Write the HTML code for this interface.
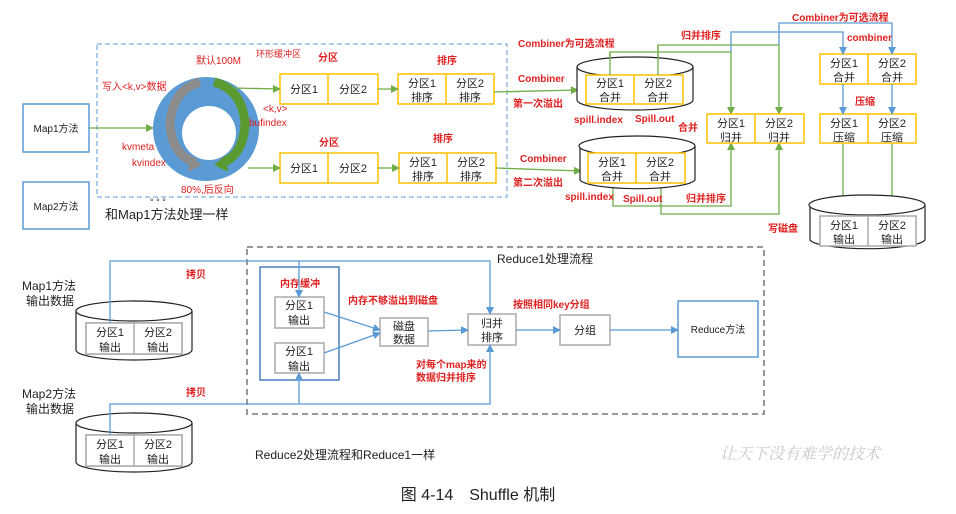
<!DOCTYPE html>
<html><head><meta charset="utf-8"><style>
html,body{margin:0;padding:0;background:#fff;}
svg{display:block;font-family:"Liberation Sans","Noto Sans CJK SC",sans-serif;}
.r{fill:#e02020;font-size:10px;}
.rb{fill:#e02020;font-size:10px;font-weight:bold;}
.t{fill:#222;font-size:11px;text-anchor:middle;}
</style></head><body>
<svg width="956" height="514" viewBox="0 0 956 514" xmlns="http://www.w3.org/2000/svg">
<defs>
<marker id="g" markerWidth="8" markerHeight="8" refX="7" refY="4" orient="auto" markerUnits="userSpaceOnUse"><path d="M0,0 L8,4 L0,8 z" fill="#70ad47"/></marker>
<marker id="b" markerWidth="8" markerHeight="8" refX="7" refY="4" orient="auto" markerUnits="userSpaceOnUse"><path d="M0,0 L8,4 L0,8 z" fill="#5b9bd5"/></marker>
</defs>
<!-- top dashed -->
<rect x="97" y="44" width="410" height="153" fill="none" stroke="#5b9bd5" stroke-dasharray="5,3"/>
<rect x="23" y="104" width="66" height="48" fill="#fff" stroke="#5b9bd5" stroke-width="1.5"/>
<text x="56" y="132" class="t" style="font-size:10px">Map1方法</text>
<rect x="23" y="182" width="66" height="47" fill="#fff" stroke="#5b9bd5" stroke-width="1.5"/>
<text x="56" y="210" class="t" style="font-size:10px">Map2方法</text>
<text x="105" y="219" style="font-size:13px;fill:#222">和Map1方法处理一样</text>
<text x="150" y="205" style="font-size:9px;fill:#222">°   °   °</text>
<!-- ring -->
<ellipse cx="206" cy="129" rx="53" ry="52" fill="#5b9bd5"/>
<circle cx="209" cy="133" r="27" fill="#fff"/>
<path d="M200,82 Q172,90 170,125 Q172,155 196,163" fill="none" stroke="#8c8c8c" stroke-width="9"/>
<path d="M190,156 L202,165 L188,172 z" fill="#8c8c8c"/>
<path d="M214,82 Q243,90 245,125 Q243,155 222,163" fill="none" stroke="#5a9a30" stroke-width="9"/>
<path d="M226,155 L214,165 L228,172 z" fill="#5a9a30"/>
<text x="196" y="64" class="r">默认100M</text>
<text x="256" y="57" class="r" style="font-size:9px">环形缓冲区</text>
<text x="318" y="61" class="rb">分区</text>
<text x="437" y="64" class="rb">排序</text>
<text x="102" y="90" class="r">写入&lt;k,v&gt;数据</text>
<text x="263" y="112" class="r">&lt;k,v&gt;</text>
<text x="249" y="126" class="r">bufindex</text>
<text x="122" y="150" class="r">kvmeta</text>
<text x="132" y="166" class="r">kvindex</text>
<text x="181" y="193" class="r">80%,后反向</text>
<!-- partitions -->
<g stroke="#ffc000" stroke-width="1.5" fill="#fff">
<rect x="280" y="74" width="98" height="30"/><line x1="328" y1="74" x2="328" y2="104"/>
<rect x="398" y="74" width="96" height="30"/><line x1="446" y1="74" x2="446" y2="104"/>
<rect x="280" y="153" width="98" height="30"/><line x1="328" y1="153" x2="328" y2="183"/>
<rect x="399" y="153" width="97" height="30"/><line x1="447" y1="153" x2="447" y2="183"/>
</g>
<text x="304" y="93" class="t">分区1</text><text x="353" y="93" class="t">分区2</text>
<text x="422" y="87" class="t">分区1</text><text x="422" y="101" class="t">排序</text>
<text x="470" y="87" class="t">分区2</text><text x="470" y="101" class="t">排序</text>
<text x="304" y="172" class="t">分区1</text><text x="353" y="172" class="t">分区2</text>
<text x="423" y="166" class="t">分区1</text><text x="423" y="180" class="t">排序</text>
<text x="471" y="166" class="t">分区2</text><text x="471" y="180" class="t">排序</text>
<text x="319" y="146" class="rb">分区</text>
<text x="433" y="142" class="rb">排序</text>
<g stroke="#70ad47" stroke-width="1.3" fill="none">
<line x1="89" y1="128" x2="153" y2="128" marker-end="url(#g)"/>
<line x1="232" y1="88" x2="280" y2="89" marker-end="url(#g)"/>
<line x1="248" y1="168" x2="280" y2="168" marker-end="url(#g)"/>
<line x1="378" y1="89" x2="398" y2="89" marker-end="url(#g)"/>
<line x1="378" y1="168" x2="399" y2="168" marker-end="url(#g)"/>
<line x1="494" y1="92" x2="578" y2="90" marker-end="url(#g)"/>
<line x1="496" y1="168" x2="581" y2="171" marker-end="url(#g)"/>
<polyline points="610,75 610,52 731,52 731,114" marker-end="url(#g)"/>
<polyline points="658,75 658,45 779,45 779,114" marker-end="url(#g)"/>
<polyline points="613,186 613,206 731,206 731,143" marker-end="url(#g)"/>
<polyline points="661,186 661,214 779,214 779,143" marker-end="url(#g)"/>
<line x1="843" y1="143" x2="843" y2="216" marker-end="url(#g)"/>
<line x1="892" y1="143" x2="892" y2="216" marker-end="url(#g)"/>
</g>
<text x="518" y="82" class="rb">Combiner</text>
<text x="513" y="107" class="rb">第一次溢出</text>
<text x="520" y="162" class="rb">Combiner</text>
<text x="513" y="186" class="rb">第二次溢出</text>
<text x="518" y="47" class="rb">Combiner为可选流程</text>
<!-- cylinders top -->
<g stroke="#222" stroke-width="1.2" fill="#fff">
<path d="M577,67 L577,100 A58,10 0 0 0 693,100 L693,67"/>
<ellipse cx="635" cy="67" rx="58" ry="10"/>
<path d="M580,146 L580,180 A58,10 0 0 0 695,180 L695,146"/>
<ellipse cx="637" cy="146" rx="58" ry="10"/>
<path d="M810,205 L810,240 A58,10 0 0 0 925,240 L925,205"/>
<ellipse cx="867" cy="205" rx="58" ry="10"/>
</g>
<g stroke="#ffc000" stroke-width="1.5" fill="#fff">
<rect x="586" y="75" width="97" height="29"/><line x1="634" y1="75" x2="634" y2="104"/>
<rect x="588" y="153" width="97" height="30"/><line x1="636" y1="153" x2="636" y2="183"/>
<rect x="707" y="114" width="97" height="29"/><line x1="755" y1="114" x2="755" y2="143"/>
<rect x="820" y="54" width="96" height="30"/><line x1="868" y1="54" x2="868" y2="84"/>
<rect x="820" y="114" width="96" height="29"/><line x1="868" y1="114" x2="868" y2="143"/>
</g>
<g stroke="#aaa" stroke-width="1.5" fill="#fff"><rect x="820" y="216" width="96" height="30"/><line x1="868" y1="216" x2="868" y2="246"/></g>
<g stroke="#70ad47" stroke-width="1.3"><line x1="610" y1="52" x2="610" y2="75"/><line x1="658" y1="45" x2="658" y2="75"/></g>
<text x="610" y="87" class="t">分区1</text><text x="610" y="101" class="t">合并</text>
<text x="658" y="87" class="t">分区2</text><text x="658" y="101" class="t">合并</text>
<text x="612" y="166" class="t">分区1</text><text x="612" y="180" class="t">合并</text>
<text x="660" y="166" class="t">分区2</text><text x="660" y="180" class="t">合并</text>
<text x="731" y="127" class="t">分区1</text><text x="731" y="141" class="t">归并</text>
<text x="779" y="127" class="t">分区2</text><text x="779" y="141" class="t">归并</text>
<text x="844" y="67" class="t">分区1</text><text x="844" y="81" class="t">合并</text>
<text x="892" y="67" class="t">分区2</text><text x="892" y="81" class="t">合并</text>
<text x="844" y="127" class="t">分区1</text><text x="844" y="141" class="t">压缩</text>
<text x="892" y="127" class="t">分区2</text><text x="892" y="141" class="t">压缩</text>
<text x="844" y="229" class="t">分区1</text><text x="844" y="243" class="t">输出</text>
<text x="892" y="229" class="t">分区2</text><text x="892" y="243" class="t">输出</text>
<g stroke="#5b9bd5" stroke-width="1.3" fill="none">
<polyline points="731,52 731,32 843,32 843,54" marker-end="url(#b)"/>
<polyline points="779,45 779,23 892,23 892,54" marker-end="url(#b)"/>
<line x1="843" y1="84" x2="843" y2="114" marker-end="url(#b)"/>
<line x1="892" y1="84" x2="892" y2="114" marker-end="url(#b)"/>
</g>
<text x="574" y="123" class="rb">spill.index</text>
<text x="635" y="122" class="rb">Spill.out</text>
<text x="678" y="131" class="rb">合并</text>
<text x="565" y="200" class="rb">spill.index</text>
<text x="623" y="202" class="rb">Spill.out</text>
<text x="686" y="202" class="rb">归并排序</text>
<text x="681" y="39" class="rb">归并排序</text>
<text x="792" y="21" class="rb">Combiner为可选流程</text>
<text x="847" y="41" class="rb">combiner</text>
<text x="855" y="105" class="rb">压缩</text>
<text x="768" y="232" class="rb">写磁盘</text>
<!-- bottom -->
<rect x="247" y="247" width="517" height="167" fill="none" stroke="#999" stroke-width="2" stroke-dasharray="6,4"/>
<text x="497" y="263" style="font-size:12px;fill:#222">Reduce1处理流程</text>
<rect x="260" y="267" width="79" height="113" fill="none" stroke="#4a7fc1" stroke-width="1.5"/>
<text x="280" y="287" class="rb">内存缓冲</text>
<g stroke="#aaa" stroke-width="1.5" fill="#fff">
<rect x="275" y="297" width="49" height="31"/><rect x="275" y="343" width="49" height="30"/>
<rect x="380" y="318" width="48" height="28"/><rect x="468" y="314" width="48" height="31"/>
<rect x="560" y="315" width="50" height="30"/>
<rect x="86" y="323" width="96" height="31"/><rect x="86" y="435" width="96" height="31"/>
</g>
<rect x="678" y="301" width="80" height="56" fill="#fff" stroke="#5b9bd5" stroke-width="1.5"/>
<text x="299" y="309" class="t">分区1</text><text x="299" y="324" class="t">输出</text>
<text x="299" y="355" class="t">分区1</text><text x="299" y="370" class="t">输出</text>
<text x="404" y="330" class="t">磁盘</text><text x="404" y="343" class="t">数据</text>
<text x="492" y="327" class="t">归并</text><text x="492" y="341" class="t">排序</text>
<text x="585" y="334" class="t">分组</text>
<text x="718" y="333" class="t" style="font-size:10px">Reduce方法</text>
<text x="348" y="304" class="rb">内存不够溢出到磁盘</text>
<text x="513" y="308" class="rb">按照相同key分组</text>
<text x="416" y="368" class="rb">对每个map来的</text>
<text x="416" y="381" class="rb">数据归并排序</text>
<text x="186" y="278" class="rb">拷贝</text>
<text x="186" y="396" class="rb">拷贝</text>
<text x="22" y="290" style="font-size:12px;fill:#222">Map1方法</text>
<text x="26" y="305" style="font-size:12px;fill:#222">输出数据</text>
<text x="22" y="398" style="font-size:12px;fill:#222">Map2方法</text>
<text x="26" y="413" style="font-size:12px;fill:#222">输出数据</text>
<g stroke="#222" stroke-width="1.2" fill="none">
<path d="M76,311 L76,350 A58,10 0 0 0 192,350 L192,311"/><ellipse cx="134" cy="311" rx="58" ry="10" fill="#fff"/>
<path d="M76,423 L76,462 A58,10 0 0 0 192,462 L192,423"/><ellipse cx="134" cy="423" rx="58" ry="10" fill="#fff"/>
</g>
<g stroke="#aaa" stroke-width="1.5" fill="#fff"><rect x="86" y="323" width="96" height="31"/><line x1="134" y1="323" x2="134" y2="354"/><rect x="86" y="435" width="96" height="31"/><line x1="134" y1="435" x2="134" y2="466"/></g>
<text x="110" y="336" class="t">分区1</text><text x="110" y="351" class="t">输出</text>
<text x="158" y="336" class="t">分区2</text><text x="158" y="351" class="t">输出</text>
<text x="110" y="448" class="t">分区1</text><text x="110" y="463" class="t">输出</text>
<text x="158" y="448" class="t">分区2</text><text x="158" y="463" class="t">输出</text>
<g stroke="#5b9bd5" stroke-width="1.3" fill="none">
<polyline points="110,323 110,261 490,261 490,314" marker-end="url(#b)"/>
<line x1="299" y1="261" x2="299" y2="297" marker-end="url(#b)"/>
<polyline points="110,435 110,404 490,404 490,345" marker-end="url(#b)"/>
<line x1="299" y1="404" x2="299" y2="373" marker-end="url(#b)"/>
<line x1="324" y1="312" x2="380" y2="330" marker-end="url(#b)"/>
<line x1="324" y1="353" x2="380" y2="333" marker-end="url(#b)"/>
<line x1="428" y1="331" x2="468" y2="330" marker-end="url(#b)"/>
<line x1="516" y1="330" x2="560" y2="330" marker-end="url(#b)"/>
<line x1="610" y1="330" x2="678" y2="330" marker-end="url(#b)"/>
</g>
<text x="255" y="459" style="font-size:12px;fill:#222">Reduce2处理流程和Reduce1一样</text>
<text x="720" y="459" style="font-size:16px;fill:#c8c8c8;font-style:italic;font-family:'Noto Serif CJK SC',serif">让天下没有难学的技术</text>
<text x="478" y="500" style="font-size:16px;fill:#222;text-anchor:middle">图 4-14　Shuffle 机制</text>
</svg>
</body></html>
